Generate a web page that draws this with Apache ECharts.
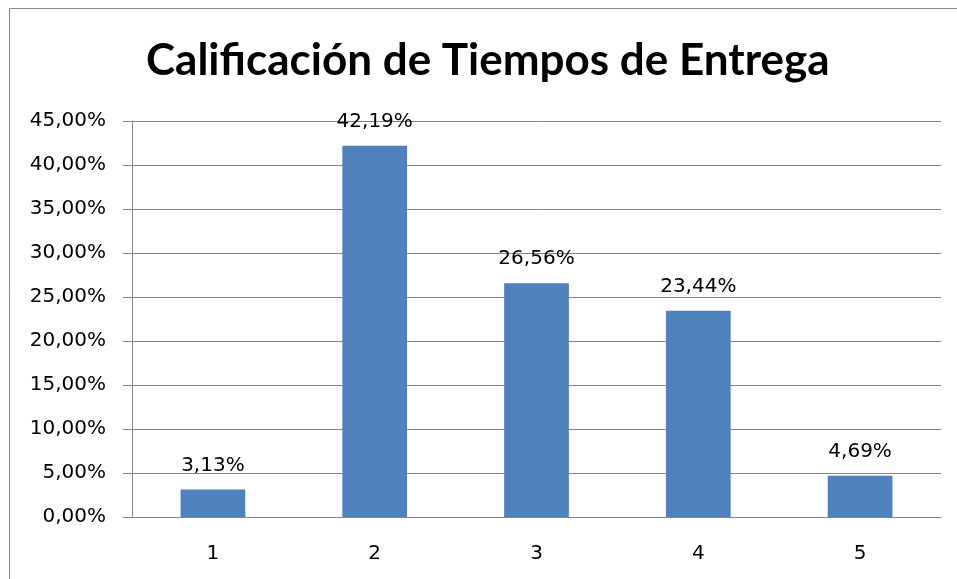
<!DOCTYPE html>
<html>
<head>
<meta charset="utf-8">
<script src="https://cdn.jsdelivr.net/npm/echarts@6/dist/echarts.min.js"></script>
<style>
  html, body { margin: 0; padding: 0; background: #fff; }
  #chart { width: 957px; height: 579px; }
</style>
</head>
<body>
<div id="chart"></div>
<script>
// datos
const categorias = ['1', '2', '3', '4', '5'];
const porcentajes = [3.13, 42.19, 26.56, 23.44, 4.69];
const tituloTexto = 'Calificación de Tiempos de Entrega';

const fmt = v => v.toFixed(2).replace('.', ',') + '%';
const gris = '#868686';
const fuenteTitulo = 'Lato';
const fuente = 'DejaVu Sans';

const myChart = echarts.init(document.getElementById('chart'));
myChart.setOption({
    animation: false,
    backgroundColor: '#fff',
    title: {
        text: tituloTexto,
        left: 141,
        top: 34,
        textStyle: { fontFamily: fuenteTitulo, fontWeight: 'bold', fontSize: 44, color: '#000' }
    },
    graphic: [{
        type: 'rect',
        shape: { x: 9.5, y: 8.5, width: 1000, height: 1000 },
        style: { fill: null, stroke: gris, lineWidth: 1 },
        silent: true
    }],
    grid: { left: 132, right: 16, top: 121, bottom: 62 },
    xAxis: {
        type: 'category',
        data: categorias,
        axisLine: { lineStyle: { color: gris } },
        axisTick: { length: 9, lineStyle: { color: gris } },
        axisLabel: { color: '#000', fontFamily: fuente, fontSize: 20, margin: 27 }
    },
    yAxis: {
        type: 'value',
        min: 0,
        max: 45,
        interval: 5,
        axisLine: { show: true, lineStyle: { color: gris } },
        axisTick: { show: true, length: 9, lineStyle: { color: gris } },
        splitLine: { lineStyle: { color: gris } },
        axisLabel: { color: '#000', fontFamily: fuente, fontSize: 20, margin: 26, formatter: fmt }
    },
    series: [{
        type: 'bar',
        data: porcentajes,
        barWidth: '40%',
        itemStyle: { color: '#4F81BD' },
        label: {
            show: true,
            position: 'top',
            distance: 14,
            color: '#000',
            fontFamily: fuente,
            fontSize: 20,
            formatter: p => fmt(p.value)
        }
    }]
});
</script>
</body>
</html>
